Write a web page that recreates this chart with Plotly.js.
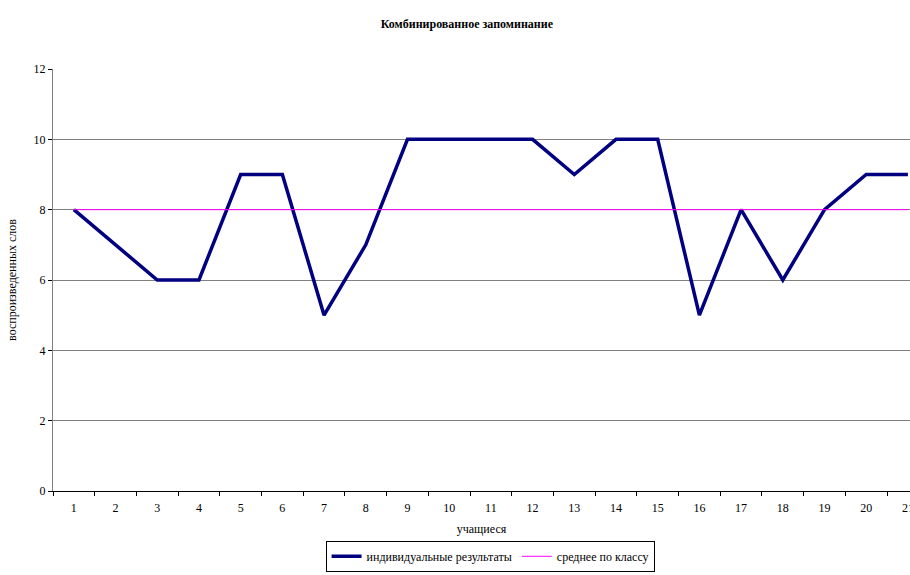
<!DOCTYPE html>
<html><head><meta charset="utf-8">
<script src="https://cdn.plot.ly/plotly-3.0.1.min.js"></script>
<style>html,body{margin:0;padding:0;background:#fff;overflow:hidden}
#chart svg text{font-family:"Liberation Serif","Times New Roman","DejaVu Serif",serif !important}</style>
</head><body><div id="chart" style="width:910px;height:575px"></div>
<script>
const students = [1,2,3,4,5,6,7,8,9,10,11,12,13,14,15,16,17,18,19,20,21];
const individual = [8,7,6,6,9,9,5,7,10,10,10,10,9,10,10,5,8,6,8,9,9];
const classMean = [8,8,8,8,8,8,8,8,8,8,8,8,8,8,8,8,8,8,8,8,8];
const yTicks = [0,2,4,6,8,10,12];

const FAM = '"Liberation Serif", "Times New Roman", serif';
const f = (s) => ({family: FAM, size: s, color: '#000'});

const traces = [
  {x: students, y: individual, type: 'scatter', mode: 'lines', name: 'индивидуальные результаты',
   line: {color: '#000080', width: 3.5}},
  {x: students, y: classMean, type: 'scatter', mode: 'lines', name: 'среднее по классу',
   line: {color: '#FF00FF', width: 1}}
];

const layout = {
  width: 910, height: 575,
  paper_bgcolor: '#fff', plot_bgcolor: '#fff',
  margin: {l: 53, r: 0, t: 69, b: 84},
  font: f(12),
  title: {text: '<b>Комбинированное запоминание</b>', x: 0.513, xanchor: 'center', y: 0.958, yanchor: 'middle',
          font: f(12)},
  showlegend: true,
  legend: {orientation: 'h', x: 0.51, xanchor: 'center', y: -0.118, yanchor: 'top',
           bordercolor: '#000', borderwidth: 1, font: f(12),
           itemwidth: 30, tracegroupgap: 0},
  xaxis: {
    range: [0.5, 21.05], tickmode: 'array', tickvals: students, ticktext: students.map(String),
    ticks: '', showgrid: false, zeroline: false, ticklabeloverflow: 'allow',
    showline: true, linecolor: '#000', linewidth: 1,
    minor: {tick0: 0.5, dtick: 1, ticks: 'outside', ticklen: 4, tickcolor: '#000', showgrid: false},
    ticklabelstandoff: 6,
    tickfont: f(12),
    title: {text: 'учащиеся', font: f(12), standoff: 10}
  },
  yaxis: {
    range: [0, 12], tickmode: 'array', tickvals: yTicks,
    ticks: 'outside', ticklen: 4, tickcolor: '#000',
    showgrid: true, gridcolor: '#808080', gridwidth: 1, zeroline: false,
    showline: true, linecolor: '#808080', linewidth: 1,
    tickfont: f(12),
    title: {text: 'воспроизведенных слов', font: f(12), standoff: 14}
  }
};

Plotly.newPlot('chart', traces, layout, {displayModeBar: false, staticPlot: true});
</script></body></html>
